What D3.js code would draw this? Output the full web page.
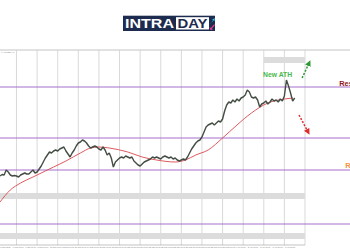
<!DOCTYPE html>
<html lang="en">
  <head>
    <meta charset="utf-8">
    <title>XAUUSD H4</title>
    <style>

body {
  margin: 0;
  background: #fff;
}

svg {
  display: block;
  font-family: "Liberation Sans", Arial, sans-serif;
}

.grid line {
  stroke: #cfcfcf;
  stroke-width: 0.8;
}

.level {
  stroke: #a56fcc;
  stroke-width: 1.2;
}

.band {
  fill: #dcdcdc;
}

.price {
  fill: none;
  stroke: #434d43;
  stroke-width: 1.4;
  stroke-linejoin: bevel;
}

.ma {
  fill: none;
  stroke: #d9474d;
  stroke-width: 0.9;
}

.tick text {
  font-size: 2px;
  fill: #777;
}

</style>
  </head>
  <body>
    <svg></svg>
    <script src="https://cdn.jsdelivr.net/npm/d3@7"></script>
    <script>

    // closes, one per H4 bar
    let closes = [1938, 1941, 1940, 1950, 1946, 1940, 1938, 1939, 1938, 1936,
      1940, 1942, 1944, 1942, 1942, 1946, 1950, 1944, 1946, 1952,
      1958, 1966, 1974, 1980, 1986, 1984, 1988, 1990, 1988, 1992,
      1994, 1996, 1988, 1982, 1976, 1984, 1990, 1998, 2004, 2006,
      2010, 2008, 2004, 1998, 1994, 1996, 1998, 1996, 1992, 1990,
      1996, 1990, 1980, 1984, 1974, 1956, 1966, 1970, 1974, 1976,
      1974, 1978, 1976, 1974, 1976, 1968, 1964, 1960, 1958, 1962,
      1966, 1968, 1970, 1972, 1976, 1974, 1976, 1974, 1972, 1976,
      1978, 1976, 1974, 1976, 1972, 1974, 1970, 1968, 1970, 1972,
      1970, 1976, 1984, 1992, 1998, 2004, 2008, 2010, 2016, 2026,
      2036, 2040, 2042, 2044, 2040, 2044, 2048, 2046, 2052, 2068,
      2080, 2086, 2084, 2090, 2086, 2092, 2088, 2094, 2096, 2100,
      2110, 2106, 2096, 2094, 2096, 2090, 2076, 2082, 2084, 2088,
      2082, 2086, 2092, 2088, 2090, 2086, 2092, 2088, 2098, 2130,
      2118, 2104, 2088, 2094];

    // moving average, sampled at some bars
    let maBars = [0, 5, 10, 16, 22, 26, 32, 39, 44, 48, 53, 62, 69, 76, 85, 90, 95, 101, 108, 115, 122, 130, 138, 142];
    let maValues = [1886, 1910, 1924, 1936, 1948, 1956, 1968, 1984, 1994, 1996, 1994, 1986, 1976, 1970, 1966, 1970, 1980, 1990, 2014, 2040, 2064, 2084, 2092, 2094];

    let levels = [2116, 2014, 1950, 1842];

    // grey zones: [fromBar, toBar, low, high]
    let zones = [[128, 148, 2164, 2176], [0, 148, 1892, 1904], [0, 148, 1812, 1824]];

    let gridBars = [8, 18, 28, 38, 48, 58, 68, 78, 88, 98, 108, 118, 128, 138, 148];

    let labelBars = [0, 6, 12, 18, 24, 30, 36, 42, 48, 54, 60, 66, 72, 78, 84, 90, 96, 102, 108, 114, 120, 126, 132, 138];
    let labels = ["5 Mar 2024", "6 Mar 00:00", "7 Mar 00:00", "8 Mar 00:00", "11 Mar 00:00", "12 Mar 00:00",
      "13 Mar 00:00", "14 Mar 00:00", "15 Mar 00:00", "18 Mar 00:00", "19 Mar 00:00", "20 Mar 00:00",
      "21 Mar 00:00", "22 Mar 00:00", "25 Mar 00:00", "26 Mar 00:00", "27 Mar 00:00", "28 Mar 00:00",
      "29 Mar 00:00", "1 Apr 00:00", "2 Apr 00:00", "2 Apr 16:00", "3 Apr 00:00", "3 Apr 08:00"];

    // annotations in bar / price terms
    let upArrow = [[146.6, 2134], [150, 2164]];
    let downArrow = [[145.1, 2060], [149.5, 2026]];
    let athNote = {bar: 134.7, price: 2136, text: "New ATH"};
    let resNote = {bar: 164.6, price: 2118, text: "Resistance"};
    let supNote = {bar: 167.5, price: 1955, text: "Range"};

    let width = 350,
        height = 250,
        plotTop = 50,
        plotBottom = 245,
        plotRight = 305;

    let x = d3.scaleLinear()
        .domain([0, 148])
        .range([0, plotRight]);

    let y = d3.scaleLinear()
        .domain([1800, 2190])
        .range([plotBottom, plotTop]);

    let svg = d3.select("svg")
        .attr("width", width)
        .attr("height", height);

    // logo
    let logo = svg.append("g").attr("class", "logo");
    logo.append("rect")
        .attr("x", 123).attr("y", 15.7)
        .attr("width", 92).attr("height", 15.3)
        .attr("fill", "#1d2c4e");
    logo.append("rect")
        .attr("x", 176).attr("y", 17.2)
        .attr("width", 33).attr("height", 12.3)
        .attr("fill", "#fff");
    logo.append("text")
        .attr("x", 125).attr("y", 28.3)
        .attr("textLength", 49)
        .attr("lengthAdjust", "spacingAndGlyphs")
        .style("font-size", "13.5px")
        .style("font-weight", "bold")
        .attr("fill", "#fff")
        .text("INTRA");
    logo.append("text")
        .attr("x", 177.5).attr("y", 28.3)
        .attr("textLength", 30)
        .attr("lengthAdjust", "spacingAndGlyphs")
        .style("font-size", "13.5px")
        .style("font-weight", "bold")
        .attr("fill", "#1d2c4e")
        .text("DAY");
    logo.append("path")
        .attr("d", "M210,24 L213.5,20.5 L212.2,19.2 L215,18.3 L214.3,21.2 L213,20 L210.8,23.5 Z")
        .attr("fill", "#2cc3e8");
    logo.append("path")
        .attr("d", "M210.2,29.8 L209.6,27 L210.9,28 L214.2,24.2 L215,25 L211.7,28.8 L213,30 Z")
        .attr("fill", "#e83e98");

    // frame top
    svg.append("line")
        .attr("x1", 0).attr("x2", width)
        .attr("y1", plotTop).attr("y2", plotTop)
        .attr("stroke", "#b5b5b5")
        .attr("stroke-width", 0.8);

    svg.append("text")
        .attr("x", 1).attr("y", 53.3)
        .style("font-size", "2.4px")
        .attr("fill", "#888")
        .text("XAUUSD,H4");

    // vertical grid
    svg.append("g")
        .attr("class", "grid")
      .selectAll("line")
        .data(gridBars)
      .enter().append("line")
        .attr("x1", function(d) { return x(d); })
        .attr("x2", function(d) { return x(d); })
        .attr("y1", plotTop)
        .attr("y2", plotBottom);

    // grey zones
    svg.selectAll(".band")
        .data(zones)
      .enter().append("rect")
        .attr("class", "band")
        .attr("x", function(d) { return x(d[0]); })
        .attr("width", function(d) { return x(d[1]) - x(d[0]); })
        .attr("y", function(d) { return y(d[3]); })
        .attr("height", function(d) { return y(d[2]) - y(d[3]); });

    // levels
    svg.selectAll(".level")
        .data(levels)
      .enter().append("line")
        .attr("class", "level")
        .attr("x1", 0)
        .attr("x2", width)
        .attr("y1", function(d) { return y(d); })
        .attr("y2", function(d) { return y(d); });

    // bottom axis
    let xAxis = d3.axisBottom(x)
        .tickValues(labelBars)
        .tickSize(0)
        .tickPadding(1.5)
        .tickFormat(function(d, i) { return labels[i]; });

    let axis = svg.append("g")
        .attr("transform", "translate(0," + plotBottom + ")")
        .call(xAxis);
    axis.select(".domain")
        .attr("stroke", "#9a9a9a")
        .attr("stroke-width", 0.6)
        .attr("d", "M0,0H" + plotRight);
    axis.selectAll(".tick text")
        .attr("text-anchor", "start");

    // moving average
    let maLine = d3.line()
        .x(function(d) { return x(d[0]); })
        .y(function(d) { return y(d[1]); })
        .curve(d3.curveMonotoneX);

    svg.append("path")
        .attr("class", "ma")
        .attr("d", maLine(d3.zip(maBars, maValues)));

    // price
    let priceLine = d3.line()
        .x(function(d, i) { return x(i); })
        .y(function(d) { return y(d); });

    svg.append("path")
        .attr("class", "price")
        .attr("d", priceLine(closes));

    // arrows
    let defs = svg.append("defs");
    [["up", "#2e9a35"], ["down", "#e02b2b"]].forEach(function(m) {
      defs.append("marker")
          .attr("id", "head-" + m[0])
          .attr("viewBox", "0 0 10 10")
          .attr("refX", 5).attr("refY", 5)
          .attr("markerWidth", 4).attr("markerHeight", 4)
          .attr("orient", "auto")
        .append("path")
          .attr("d", "M0,0L10,5L0,10Z")
          .attr("fill", m[1]);
    });

    let arrowLine = d3.line()
        .x(function(d) { return x(d[0]); })
        .y(function(d) { return y(d[1]); });

    svg.append("path")
        .attr("d", arrowLine(upArrow))
        .attr("stroke", "#2e9a35")
        .attr("stroke-width", 1.5)
        .attr("stroke-dasharray", "2,1.5")
        .attr("fill", "none")
        .attr("marker-end", "url(#head-up)");

    svg.append("path")
        .attr("d", arrowLine(downArrow))
        .attr("stroke", "#e02b2b")
        .attr("stroke-width", 1.5)
        .attr("stroke-dasharray", "2,1.5")
        .attr("fill", "none")
        .attr("marker-end", "url(#head-down)");

    // notes
    svg.append("text")
        .attr("x", x(athNote.bar))
        .attr("y", y(athNote.price))
        .attr("text-anchor", "middle")
        .attr("textLength", 29)
        .attr("lengthAdjust", "spacingAndGlyphs")
        .style("font-size", "8px")
        .style("font-weight", "bold")
        .attr("fill", "#49b84a")
        .text(athNote.text);

    // these two run off the right edge, as in the screenshot
    svg.append("text")
        .attr("x", x(resNote.bar))
        .attr("y", y(resNote.price))
        .style("font-size", "7.5px")
        .style("font-weight", "bold")
        .attr("fill", "#8e1c24")
        .text(resNote.text);

    svg.append("text")
        .attr("x", x(supNote.bar))
        .attr("y", y(supNote.price))
        .style("font-size", "7.5px")
        .style("font-weight", "bold")
        .attr("fill", "#f0923a")
        .text(supNote.text);

    </script>
  </body>
</html>
